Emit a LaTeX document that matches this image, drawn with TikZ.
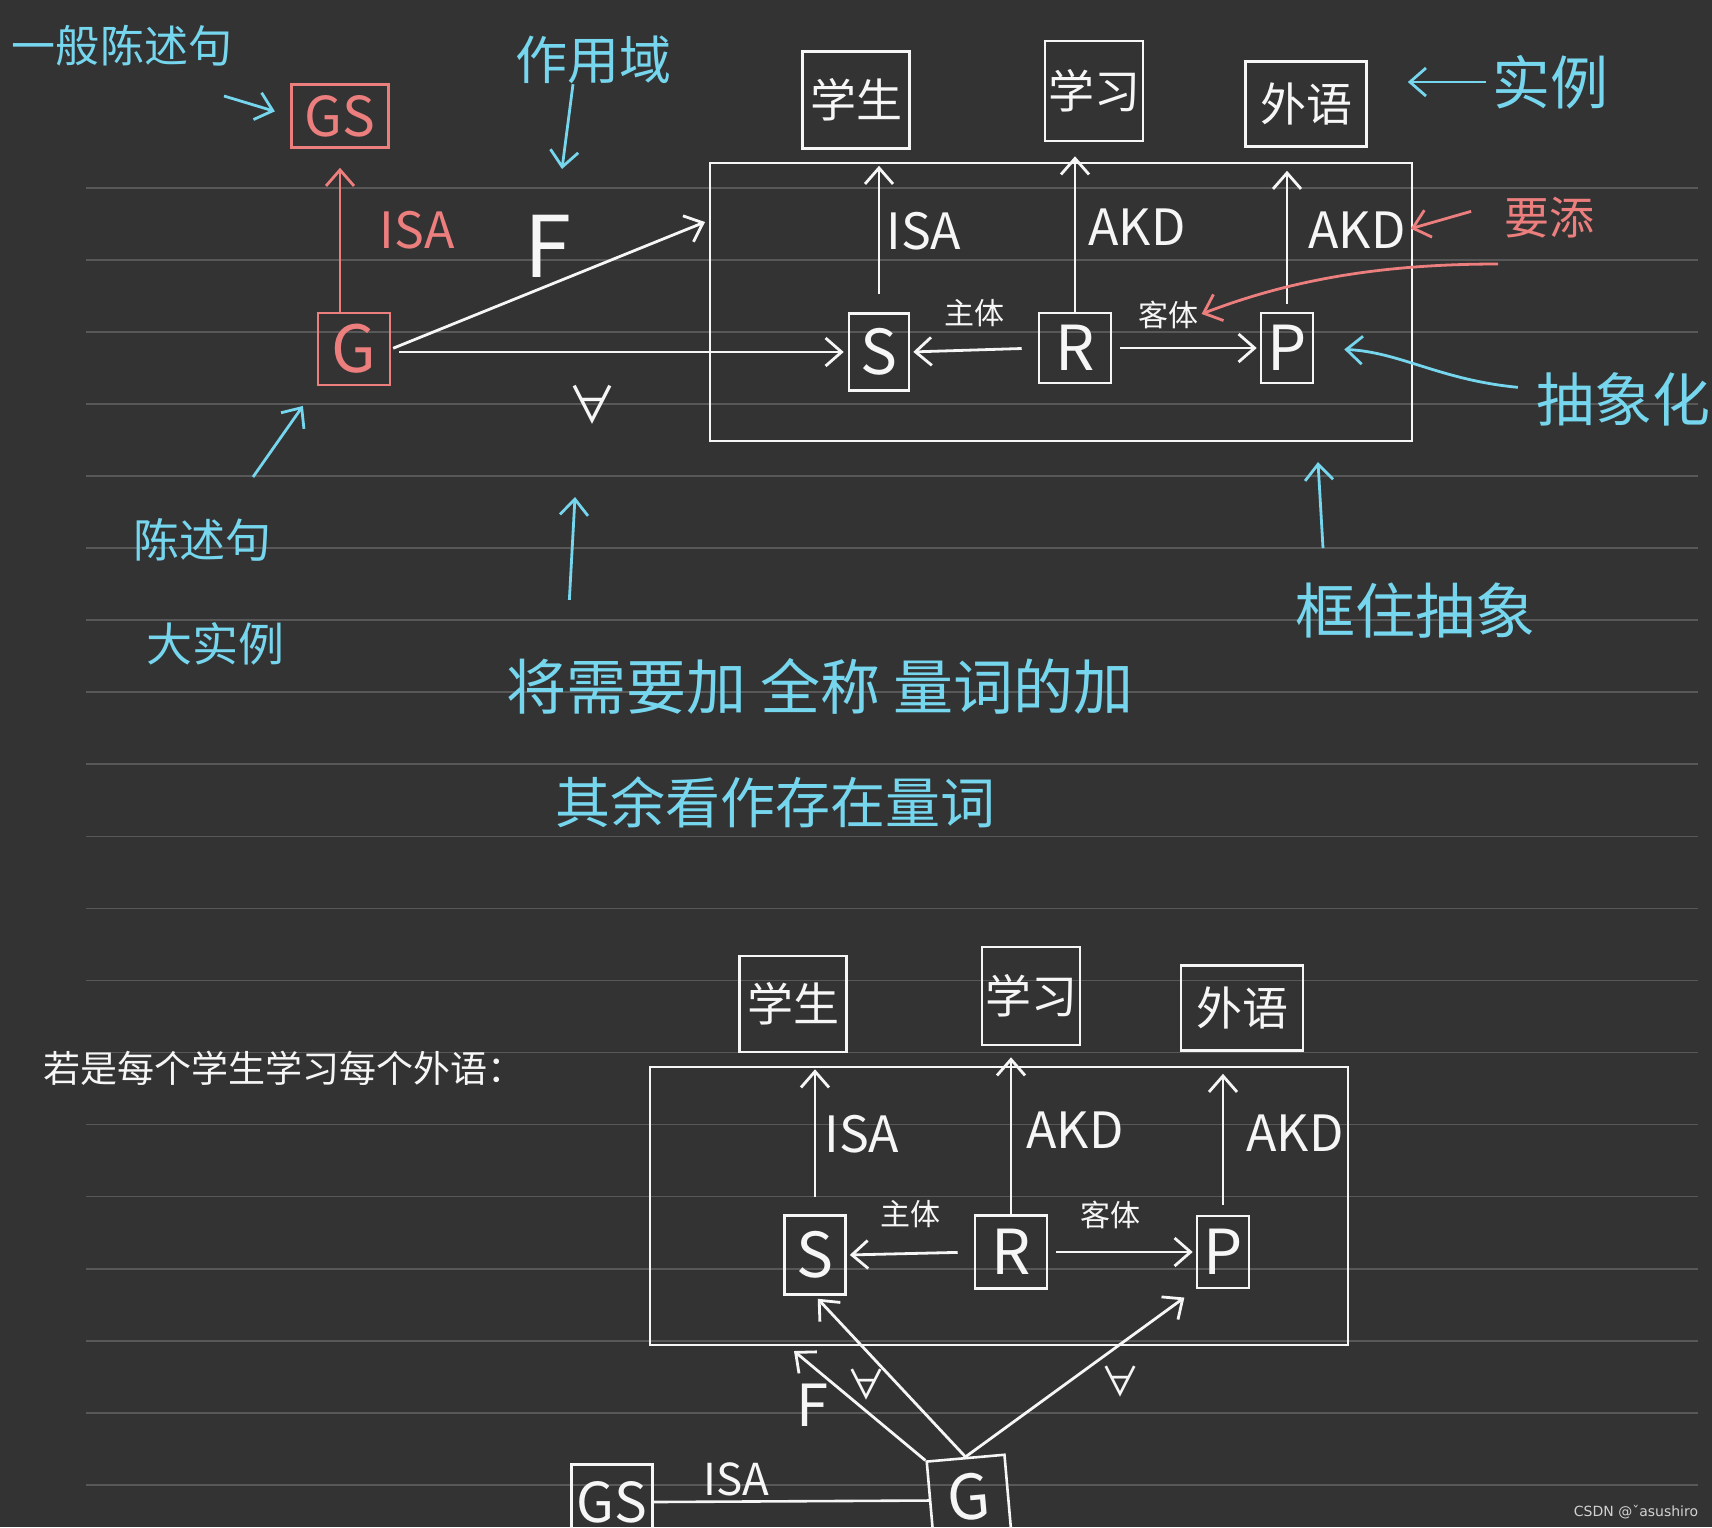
\documentclass[tikz,border=0pt]{standalone}
\usepackage{fontspec}
\setmainfont{Noto Sans CJK SC}
\newfontfamily\wmfont{DejaVu Sans}
\usetikzlibrary{arrows.meta}
\definecolor{board}{RGB}{51,51,51}
\definecolor{rulegray}{RGB}{88,88,88}
\definecolor{ink}{RGB}{246,246,246}
\definecolor{cyanink}{RGB}{118,214,238}
\definecolor{redink}{RGB}{236,126,126}
\newcommand{\fsz}[1]{\fontsize{#1}{#1}\selectfont}
\tikzset{
  box/.style={draw=ink, line width=2.6pt, inner sep=0pt, text=ink},
  redbox/.style={box, draw=redink, text=redink},
  link/.style={draw=ink, line width=2.8pt, -{Straight Barb[length=16pt,width=28pt]}},
  redlink/.style={link, draw=redink},
  notelink/.style={link, draw=cyanink},
  tag/.style={inner sep=0pt, text=ink},
  note/.style={inner sep=0pt, text=cyanink},
}
\begin{document}
\begin{tikzpicture}[x=1pt, y=-1pt]
\useasboundingbox (0,0) rectangle (1712,1527);
\fill[board] (0,0) rectangle (1712,1527);
% ruled paper
\foreach \k in {0,...,18}
  \draw[rulegray, line width=1.6pt] (86,{187.8+72.06*\k}) -- (1698,{187.8+72.06*\k});

% upper net
\node[redbox, minimum width=97pt, minimum height=63pt, font=\fsz{55}] (GS) at (340,116) {GS};
\node[redbox, minimum width=72pt, minimum height=72pt, font=\fsz{65}] (G) at (354,349) {G};
\node[box, minimum width=702pt, minimum height=278pt] (frameA) at (1061,302) {};
\node[box, minimum width=107pt, minimum height=97pt, font=\fsz{46}] (student) at (856,100) {学生};
\node[box, minimum width=98pt, minimum height=100pt, font=\fsz{46}] (study) at (1094,91) {学习};
\node[box, minimum width=121pt, minimum height=85pt, font=\fsz{46}] (foreign) at (1306,104) {外语};
\node[box, minimum width=60pt, minimum height=77pt, font=\fsz{62}] (S) at (879,352) {S};
\node[box, minimum width=72pt, minimum height=70pt, font=\fsz{62}] (R) at (1075,348) {R};
\node[box, minimum width=52pt, minimum height=70pt, font=\fsz{62}] (P) at (1287,348) {P};
\coordinate (Fend) at (705,222);

\draw[redlink, shorten >=19pt] (G.north -| GS.south) -- node[right=35pt, text=redink, font=\fsz{50}] {ISA} (GS.south);
\draw[link, shorten <=2pt] (G.east) -- node[pos=0.5, above=7pt, tag, font=\fsz{85}] (Flabel) {F} (Fend);
\draw[link, shorten <=8pt, shorten >=4pt] (G.east |- S.west) -- node[pos=0.44, below=32pt, tag, font=\fsz{50}] (allA) {∀} (S.west);
\draw[link, shorten <=18pt, shorten >=16pt] (S.north) -- node[right=6pt, tag, font=\fsz{50}] {ISA} (S.north |- student.south);
\draw[link, shorten >=14pt] (R.north) -- node[right=12pt, tag, font=\fsz{50}] {AKD} (R.north |- study.south);
\draw[link, shorten <=8pt, shorten >=23pt] (P.north) -- node[right=20pt, tag, font=\fsz{50}] (akdP) {AKD} (P.north |- foreign.south);
\draw[link, shorten <=16pt, shorten >=3pt] (R.west) -- node[above=22pt, tag, font=\fsz{30}] {主体} (S.east);
\draw[link, shorten <=8pt, shorten >=3pt] (R.east) -- node[pos=0.38, above=18pt, tag, font=\fsz{30}] (objA) {客体} (P.west);

% notes round the upper net
\node[note, font=\fsz{44}] (generalnote) at (122,46) {一般陈述句};
\node[note, font=\fsz{52}] (scopenote) at (593,60) {作用域};
\node[note, font=\fsz{58}] (instnote) at (1550,82) {实例};
\node[inner sep=0pt, text=redink, font=\fsz{45}] (addnote) at (1549,218) {要添};
\node[note, font=\fsz{58}] (abstnote) at (1623,399) {抽象化};
\node[note, font=\fsz{60}] (framenote) at (1415,611) {框住抽象};
\node[note, font=\fsz{46}] (stmtnote) at (202,540) {陈述句};
\node[note, font=\fsz{46}] (bignote) at (215,644) {大实例};
\node[note, font=\fsz{60}] (quantA) at (820,686) {将需要加 全称 量词的加};
\node[note, font=\fsz{55}] (quantB) at (775,802) {其余看作存在量词};

\coordinate (gTail) at (224,96);
\coordinate (sTip) at (562,169);
\coordinate (curveA) at (1498,264);
\coordinate (frameTip) at (1318,462);
\coordinate (stmtTail) at (253,477);
\coordinate (quantTip) at (575,497);
\draw[notelink, shorten >=16pt] (gTail) -- (GS.west);
\draw[notelink] ([xshift=-20pt]scopenote.south) -- (sTip);
\draw[notelink, shorten <=6pt, shorten >=40pt] (instnote.west) -- (foreign.east |- instnote.west);
\draw[redlink, shorten <=34pt, shorten >=4pt] ([yshift=16pt]addnote.west) -- (akdP.east);
\draw[redlink, shorten >=2pt] (curveA) .. controls (1380,264) and (1290,280) .. (objA.east);
\draw[notelink, shorten <=18pt, shorten >=30pt] ([yshift=10pt]abstnote.west) .. controls (1440,380) and (1400,352) .. (P.east);
\draw[notelink] ([shift={(-92pt,35pt)}]framenote.north) -- (frameTip);
\draw[notelink, shorten >=24pt] (stmtTail) -- (G.south west);
\draw[notelink] ([shift={(63pt,58pt)}]quantA.north west) -- (quantTip);

% lower net
\node[tag, font=\fsz{37}] (ifnote) at (284,1068) {若是每个学生学习每个外语：};
\node[box, minimum width=698pt, minimum height=278pt] (frameB) at (999,1206) {};
\node[box, minimum width=107pt, minimum height=96pt, font=\fsz{46}] (student2) at (793,1004) {学生};
\node[box, minimum width=98pt, minimum height=98pt, font=\fsz{46}] (study2) at (1031,996) {学习};
\node[box, minimum width=122pt, minimum height=85pt, font=\fsz{46}] (foreign2) at (1242,1008) {外语};
\node[box, minimum width=61pt, minimum height=79pt, font=\fsz{62}] (S2) at (815,1255) {S};
\node[box, minimum width=72pt, minimum height=73pt, font=\fsz{62}] (R2) at (1011,1252) {R};
\node[box, minimum width=52pt, minimum height=72pt, font=\fsz{62}] (P2) at (1223,1252) {P};
\node[box, rotate=5, minimum width=78pt, minimum height=78pt, font=\fsz{62}] (G2) at (969,1497) {G};
\node[box, minimum width=81pt, minimum height=75pt, font=\fsz{55}] (GS2) at (612,1502) {GS};
\coordinate (Ftip2) at (794,1351);

\draw[link, shorten <=17pt, shorten >=16pt] (S2.north) -- node[right=8pt, tag, font=\fsz{50}] {ISA} (S2.north |- student2.south);
\draw[link, shorten >=11pt] (R2.north) -- node[right=14pt, tag, font=\fsz{50}] {AKD} (R2.north |- study2.south);
\draw[link, shorten <=10pt, shorten >=22pt] (P2.north) -- node[right=22pt, tag, font=\fsz{50}] {AKD} (P2.north |- foreign2.south);
\draw[link, shorten <=16pt, shorten >=3pt] (R2.west) -- node[above=24pt, tag, font=\fsz{30}] {主体} (S2.east);
\draw[link, shorten <=8pt, shorten >=3pt] (R2.east) -- node[pos=0.42, above=22pt, tag, font=\fsz{30}] {客体} (P2.west);
\draw[ink, line width=2.6pt] (GS2.east) -- node[pos=0.3, above=4pt, tag, font=\fsz{44}] {ISA} (G2.west);
\draw[link] (G2.north west) -- node[left=30pt, tag, font=\fsz{58}] {F} (Ftip2);
\draw[link, shorten >=4pt] (G2.north) -- node[pos=0.45, left=10pt, tag, font=\fsz{40}] {∀} (S2.south);
\draw[link, shorten >=14pt] (G2.north) -- node[pos=0.45, right=30pt, tag, font=\fsz{40}] {∀} (P2.south west);

\node[inner sep=0pt, text=white!78!board, font=\wmfont\fsz{14}] (watermark) at (1636,1512) {CSDN @ˇasushiro};
\end{tikzpicture}
\end{document}
